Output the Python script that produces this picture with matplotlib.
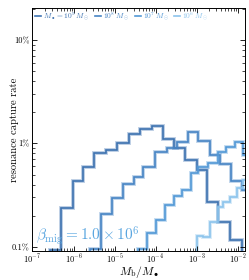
import numpy as np
import matplotlib
matplotlib.use('Agg')
import matplotlib.pyplot as plt
import matplotlib.patheffects as pe
from matplotlib.lines import Line2D
from matplotlib.ticker import FuncFormatter, LogLocator, NullFormatter

plt.rcParams['font.family'] = 'serif'
plt.rcParams['font.serif'] = ['cmr10']
plt.rcParams['mathtext.fontset'] = 'cm'
plt.rcParams['axes.formatter.use_mathtext'] = True

# legend labels and colours (M_bh = 1e9, 1e8, 1e7, 1e6 Msun)
labels = [r'$M_\bullet=10^9\,M_\odot$', r'$10^8\,M_\odot$', r'$10^7\,M_\odot$', r'$10^6\,M_\odot$']
colors = ['#3d72b0', '#4784c4', '#5298d6', '#8cc4ec']

# bin edges in log10(M_b / M_bh) and capture rates (fraction) for each black-hole mass
log_edges_1e9 = [-6.566, -6.305, -6.020, -5.761, -5.493, -5.207, -4.939, -4.646, -4.378,
                 -4.093, -3.817, -3.549, -3.273, -2.995, -2.737, -2.468, -2.183, -1.898]
rate_1e9 = [0.00094, 0.00239, 0.00433, 0.00596, 0.00802, 0.00863, 0.01016, 0.01233, 0.01378,
            0.01482, 0.01096, 0.00897, 0.00690, 0.00553, 0.00273, 0.00175, 0.00116]

log_edges_1e8 = [-5.598, -5.329, -5.068, -4.800, -4.524, -4.298, -4.012, -3.727, -3.483,
                 -3.200, -2.956, -2.671, -2.427, -2.159, -1.898, -1.646]
rate_1e8 = [0.00095, 0.00208, 0.00298, 0.00401, 0.00473, 0.00596, 0.00832, 0.00897, 0.01039,
            0.01297, 0.01043, 0.00767, 0.00632, 0.00433, 0.00354]

log_edges_1e7 = [-4.420, -4.207, -3.988, -3.768, -3.549, -3.354, -3.146, -2.956, -2.712,
                 -2.488, -2.280, -2.073, -1.859, -1.646]
rate_1e7 = [0.00095, 0.00136, 0.00182, 0.00254, 0.00312, 0.00354, 0.00514, 0.00585, 0.00653,
            0.00832, 0.00923, 0.01033, 0.00773]

log_edges_1e6 = [-2.995, -2.834, -2.671, -2.468, -2.366, -2.183, -2.005, -1.866, -1.646]
rate_1e6 = [0.00128, 0.00124, 0.00173, 0.00244, 0.00273, 0.00303, 0.00368, 0.00443]

series = [(log_edges_1e9, rate_1e9), (log_edges_1e8, rate_1e8),
          (log_edges_1e7, rate_1e7), (log_edges_1e6, rate_1e6)]

fig = plt.figure(figsize=(2.49, 2.80), dpi=100)
ax = fig.add_axes([0.1305, 0.1036, 0.8535, 0.8678])
ax.set_xscale('log')
ax.set_yscale('log')

for (le, r), c in zip(series, colors):
    ax.stairs(r, 10 ** np.array(le), baseline=1e-6, color=c, lw=1.2,
              path_effects=[pe.Stroke(linewidth=2.8, foreground=c, alpha=0.35), pe.Normal()])

ax.set_xlim(1e-7, 1.52e-2)
ax.set_ylim(9.1e-4, 0.204)

ax.xaxis.set_major_locator(LogLocator(base=10, numticks=20))
ax.xaxis.set_minor_locator(LogLocator(base=10, subs=np.arange(2, 10), numticks=20))
ax.xaxis.set_minor_formatter(NullFormatter())
ax.yaxis.set_major_locator(LogLocator(base=10, numticks=20))
ax.yaxis.set_minor_locator(LogLocator(base=10, subs=np.arange(2, 10), numticks=20))
ax.yaxis.set_minor_formatter(NullFormatter())

def pct(v, pos):
    p = v * 100
    if p >= 1:
        return '%d%%' % round(p)
    return ('%g' % p) + '%'
ax.yaxis.set_major_formatter(FuncFormatter(pct))

ax.tick_params(which='both', direction='in', top=True, right=True, labelsize=6, pad=2)
ax.tick_params(axis='x', which='both', pad=1.2)
ax.tick_params(which='major', length=3.5, width=0.6)
ax.tick_params(which='minor', length=2, width=0.5)
for s in ax.spines.values():
    s.set_linewidth(0.7)

ax.set_xlabel(r'$M_{\rm b}/M_\bullet$', fontsize=8.3)
ax.xaxis.set_label_coords(0.5, -0.053)
ax.set_ylabel('resonance capture rate', fontsize=7.6)
ax.yaxis.set_label_coords(-0.062, 0.5)

handles = [Line2D([], [], color=c, lw=1.2) for c in colors]
ax.legend(handles, labels, loc='upper left', ncol=4, fontsize=5.4, frameon=False,
          handlelength=0.8, handletextpad=0.3, columnspacing=0.7, borderaxespad=0.05,
          borderpad=0.3, labelcolor=colors)

ax.text(0.016, 0.045, r'$\beta_{\rm mig}=1.0\times10^6$', transform=ax.transAxes,
        fontsize=11, color='#5aa6e0', va='baseline', ha='left')

fig.savefig('out.png', dpi=100)
